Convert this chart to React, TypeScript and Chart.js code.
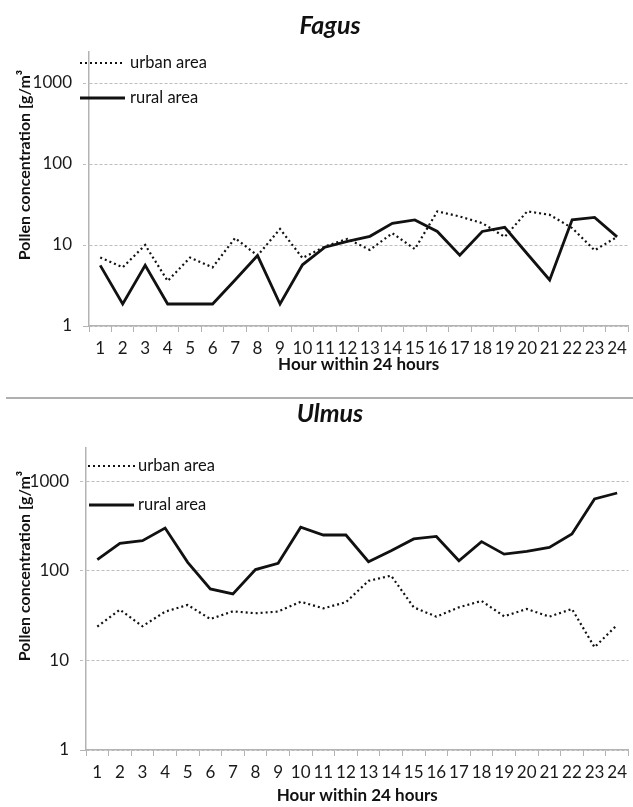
import { useEffect, useRef } from 'react';
import { Chart, registerables } from 'chart.js';
Chart.register(...registerables);

const hours = ['1','2','3','4','5','6','7','8','9','10','11','12','13','14','15','16','17','18','19','20','21','22','23','24'];
const fagusUrban = [7.0, 5.3, 10, 3.6, 7.0, 5.3, 12.2, 7.4, 15.8, 6.9, 9.6, 11.9, 8.7, 14, 8.9, 26, 22.5, 18.6, 12.6, 26, 23.6, 16.2, 8.6, 12.6];
const fagusRural = [5.6, 1.87, 5.6, 1.87, 1.87, 1.87, 3.7, 7.4, 1.87, 5.7, 9.4, 11.1, 12.8, 18.5, 20.4, 14.7, 7.5, 14.7, 16.5, 7.8, 3.7, 20.5, 21.9, 12.6];
const ulmusUrban = [23.8, 36.7, 24, 34.9, 41.5, 28.9, 35.2, 33.5, 35, 45, 38, 44.5, 77, 88, 39, 30.7, 39, 46, 31, 37.4, 30.7, 37.4, 14, 24.8];
const ulmusRural = [133, 202, 216, 299, 124, 62.5, 55, 103, 121, 305, 250, 250, 126, 167, 226, 241, 129, 211, 153, 164, 182, 256, 630, 735];
const yTicks = [1, 10, 100, 1000];
const seriesNames = ['urban area', 'rural area'];
const yTitle = 'Pollen concentration [g/m³';
const xTitle = 'Hour within 24 hours';

const FONT = 'Lato, "Open Sans", sans-serif';
const INK = '#111';
const AXIS = '#b3b3b3';

type Lay = {
  title: string; titleBase: number; padTop: number; padRight: number; yWidth: number; xHeight: number; yMax: number;
  yTitleY: number; xTitleY: number;
  leg: { x0: number; x1: number; y: number; tx: number }[];
};

function makeTextPlugin(l: Lay) {
  return {
    id: 'texts',
    afterDraw(chart: any) {
      const ctx = chart.ctx as CanvasRenderingContext2D;
      const area = chart.chartArea;
      ctx.save();
      ctx.fillStyle = INK;
      ctx.textAlign = 'center';
      ctx.textBaseline = 'alphabetic';
      ctx.font = `italic bold 25px ${FONT}`;
      ctx.fillText(l.title, 330, l.titleBase);
      ctx.textBaseline = 'middle';
      ctx.font = `bold 17px ${FONT}`;
      ctx.fillText(xTitle, (area.left + area.right) / 2, l.xTitleY);
      ctx.save();
      ctx.translate(25, l.yTitleY);
      ctx.rotate(-Math.PI / 2);
      ctx.font = `bold 16px ${FONT}`;
      ctx.fillText(yTitle, 0, 0);
      ctx.restore();
      // legend
      ctx.textAlign = 'left';
      ctx.font = `16.5px ${FONT}`;
      l.leg.forEach((it, i) => {
        ctx.save();
        ctx.strokeStyle = INK;
        ctx.lineWidth = i === 0 ? 2.2 : 2.8;
        ctx.setLineDash(i === 0 ? [2, 3] : []);
        ctx.beginPath();
        ctx.moveTo(it.x0, it.y);
        ctx.lineTo(it.x1, it.y);
        ctx.stroke();
        ctx.restore();
        ctx.fillText(seriesNames[i], it.tx, it.y);
      });
      ctx.restore();
    },
  };
}

function makeConfig(urban: number[], rural: number[], l: Lay): any {
  return {
    type: 'line',
    data: {
      labels: hours,
      datasets: [
        { label: seriesNames[0], data: urban, borderColor: INK, borderWidth: 2.2, borderDash: [2, 3], pointRadius: 0, tension: 0, fill: false },
        { label: seriesNames[1], data: rural, borderColor: INK, borderWidth: 2.8, pointRadius: 0, tension: 0, fill: false },
      ],
    },
    options: {
      animation: false,
      responsive: false,
      maintainAspectRatio: false,
      layout: { padding: { top: l.padTop, right: l.padRight, left: 0, bottom: 0 } },
      plugins: { legend: { display: false }, tooltip: { enabled: false }, title: { display: false } },
      scales: {
        x: {
          type: 'category',
          offset: true,
          grid: { offset: true, drawOnChartArea: false, tickLength: 6, color: AXIS },
          border: { color: AXIS, width: 1.5 },
          ticks: { autoSkip: false, maxRotation: 0, minRotation: 0, padding: 6, color: '#1a1a1a', font: { family: FONT, size: 17 } },
          afterFit: (s: any) => { s.height = l.xHeight; },
        },
        y: {
          type: 'logarithmic',
          min: 1,
          max: l.yMax,
          afterBuildTicks: (s: any) => { s.ticks = yTicks.map((v) => ({ value: v })); },
          ticks: { padding: 11, color: '#1a1a1a', font: { family: FONT, size: 17 }, callback: (v: any) => String(v) },
          grid: {
            color: '#bdbdbd', lineWidth: 1, tickLength: 6,
            tickBorderDash: (c: any) => (c.tick && c.tick.value === 1 ? [] : [3, 2]),
            tickColor: (c: any) => (c.tick && c.tick.value === 1 ? AXIS : '#bdbdbd'),
          },
          border: { color: AXIS, width: 1.5, dash: [3, 2] },
          afterFit: (s: any) => { s.width = l.yWidth; },
        },
      },
    },
    plugins: [makeTextPlugin(l)],
  };
}

const fagusLay: Lay = {
  title: 'Fagus', titleBase: 34, padTop: 52, padRight: 3, yWidth: 89, xHeight: 70, yMax: 2415,
  yTitleY: 165, xTitleY: 365,
  leg: [ { x0: 80, x1: 124, y: 63, tx: 130 }, { x0: 80, x1: 125, y: 98, tx: 130 } ],
};
const ulmusLay: Lay = {
  title: 'Ulmus', titleBase: 22, padTop: 48, padRight: 0, yWidth: 86, xHeight: 57, yMax: 2335,
  yTitleY: 166, xTitleY: 396,
  leg: [ { x0: 88, x1: 135, y: 66, tx: 138 }, { x0: 89, x1: 134, y: 105, tx: 138 } ],
};

function LineChart({ urban, rural, lay, height }: { urban: number[]; rural: number[]; lay: Lay; height: number }) {
  const ref = useRef<HTMLCanvasElement | null>(null);
  useEffect(() => {
    if (!ref.current) return;
    const c = new Chart(ref.current, makeConfig(urban, rural, lay));
    return () => c.destroy();
  }, [urban, rural, lay]);
  return <canvas ref={ref} width={633} height={height} style={{ width: 633, height, display: 'block' }} />;
}

export default function App() {
  return (
    <div style={{ position: 'absolute', left: 0, top: 0, width: 633, height: 807, background: '#fff' }}>
      <div style={{ position: 'absolute', left: 0, top: 0 }}>
        <LineChart urban={fagusUrban} rural={fagusRural} lay={fagusLay} height={396} />
      </div>
      <div style={{ position: 'absolute', left: 6, top: 397, width: 627, height: 2, background: '#b0b0b0' }} />
      <div style={{ position: 'absolute', left: 0, top: 400 }}>
        <LineChart urban={ulmusUrban} rural={ulmusRural} lay={ulmusLay} height={407} />
      </div>
    </div>
  );
}
